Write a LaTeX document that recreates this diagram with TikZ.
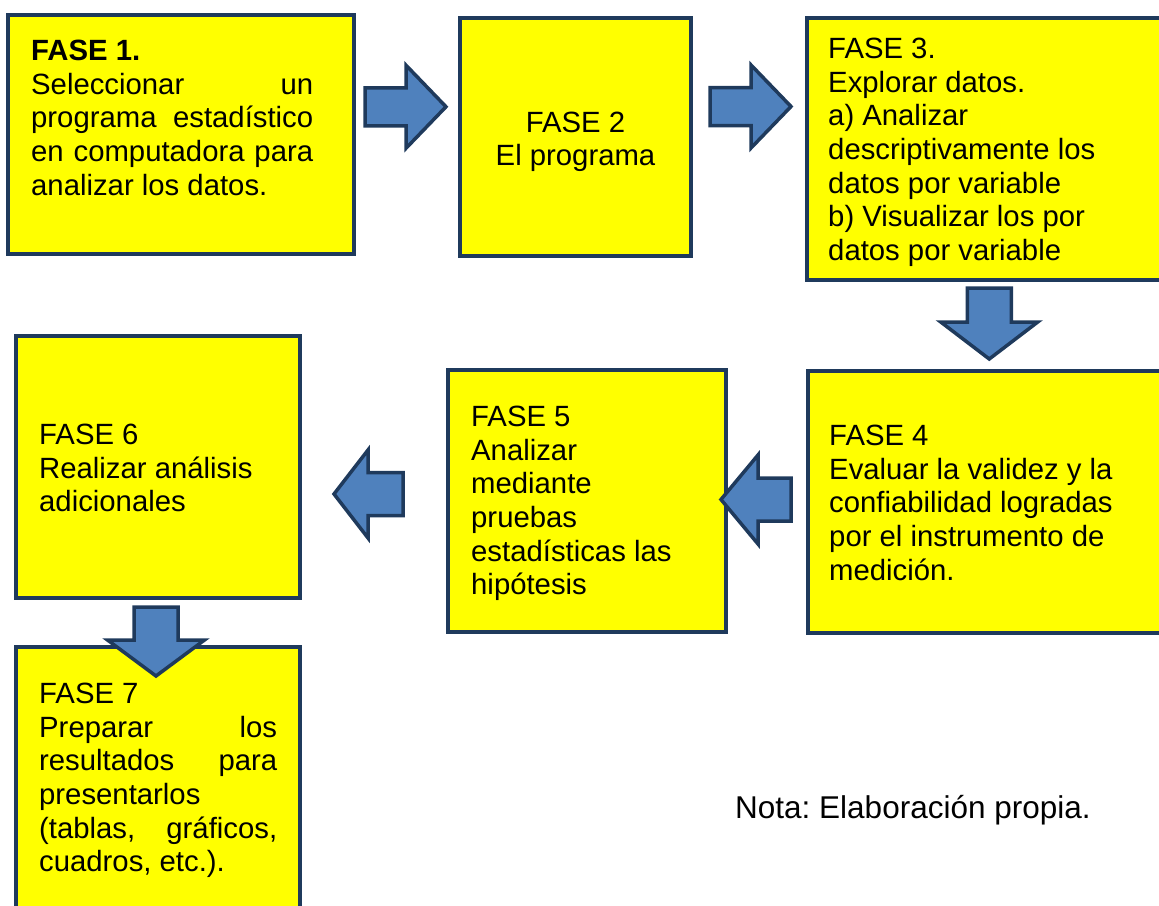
\documentclass[tikz,border=0pt]{standalone}
\usepackage{fontspec}
\setmainfont{Liberation Sans}
\usetikzlibrary{positioning, calc}
\definecolor{faseyellow}{HTML}{FFFF00}
\definecolor{faseline}{HTML}{1F3A5C}
\definecolor{arrowblue}{HTML}{4F81BD}
\frenchspacing

\begin{document}
\begin{tikzpicture}[x=1pt, y=-1pt, line join=miter,
    fase/.style={draw=faseline, line width=4pt, fill=faseyellow, outer sep=0pt, inner sep=0pt},
    txt/.style={inner sep=0pt, align=left, font=\fontsize{29.3}{33.6}\selectfont},
    arrowline/.style={draw=faseline, line width=3.5pt, fill=arrowblue},
    pics/blockarrow/.style args={#1/#2/#3/#4}{code={
      \draw[arrowline] (-#1,-#2) -- (#1-#4,-#2) -- (#1-#4,-#3) -- (#1,0) -- (#1-#4,#3) -- (#1-#4,#2) -- (-#1,#2) -- cycle;}}]

  \useasboundingbox (0,0) rectangle (1159,905);

  % cajas de las fases
  \node[fase, minimum width=346pt, minimum height=239pt] (f1) at (181,134.5) {};
  \node[fase, minimum width=231pt, minimum height=238pt] (f2) at (575.5,137) {};
  \node[fase, minimum width=363pt, minimum height=262pt] (f3) at (988.5,149) {};
  \node[fase, minimum width=362pt, minimum height=262pt] (f4) at (989,502) {};
  \node[fase, minimum width=278pt, minimum height=262pt] (f5) at (587,501) {};
  \node[fase, minimum width=284pt, minimum height=262pt] (f6) at (158,467) {};
  \node[fase, minimum width=284pt, minimum height=273pt] (f7) at (158,783.5) {};

  % textos
  \node[txt, text width=282pt, align=justify, below right=25pt and 23pt of f1.north west] (t1)
    {\textbf{FASE 1.}\newline Seleccionar un\linebreak programa estadístico\linebreak en computadora para\linebreak analizar los datos.};
  \node[txt, align=center, below=93.7pt of f2.north] (t2) {FASE 2\\El programa};
  \node[txt, below right=20pt and 21pt of f3.north west] (t3)
    {FASE 3.\\Explorar datos.\\a) Analizar\\descriptivamente los\\datos por variable\\b) Visualizar los por\\datos por variable};
  \node[txt, below right=54pt and 21pt of f4.north west] (t4)
    {FASE 4\\Evaluar la validez y la\\confiabilidad logradas\\por el instrumento de\\medición.};
  \node[txt, below right=36pt and 23pt of f5.north west] (t5)
    {FASE 5\\Analizar\\mediante\\pruebas\\estadísticas las\\hipótesis};
  \node[txt, below right=88pt and 23pt of f6.north west] (t6)
    {FASE 6\\Realizar análisis\\adicionales};
  \node[txt, text width=238pt, align=justify, below right=36pt and 23pt of f7.north west] (t7)
    {FASE 7\newline Preparar los\linebreak resultados para\linebreak presentarlos\newline (tablas, gráficos,\linebreak cuadros, etc.).};

  \node[txt, font=\fontsize{31.5}{36}\selectfont, anchor=north west] (nota) at (735,795) {Nota: Elaboración propia.};

  % flechas
  \pic at ($(f1.east)!.5!(f2.west)+(-1.5,-29)$) {blockarrow={40.5/19/41.5/40}};
  \pic at ($(f2.east)!.5!(f3.west)+(1.5,-36.5)$) {blockarrow={40.5/19/41.5/40}};
  \pic[rotate=-90] at ($(f3.south)!.5!(f4.north)+(0.5,-2)$) {blockarrow={35.5/22/48.5/37}};
  \pic[rotate=180] at ($(f4.west)!.5!(f5.east)+(-11,-2)$) {blockarrow={35/21.5/44.5/37}};
  \pic[rotate=180] at ($(f5.west)!.5!(f6.east)+(-5.5,10)$) {blockarrow={34.5/21.5/44/34}};
  \pic[rotate=-90] at ($(f6.south)!.5!(f7.north)+(-2,19)$) {blockarrow={34.5/22/48.5/36}};

\end{tikzpicture}
\end{document}
